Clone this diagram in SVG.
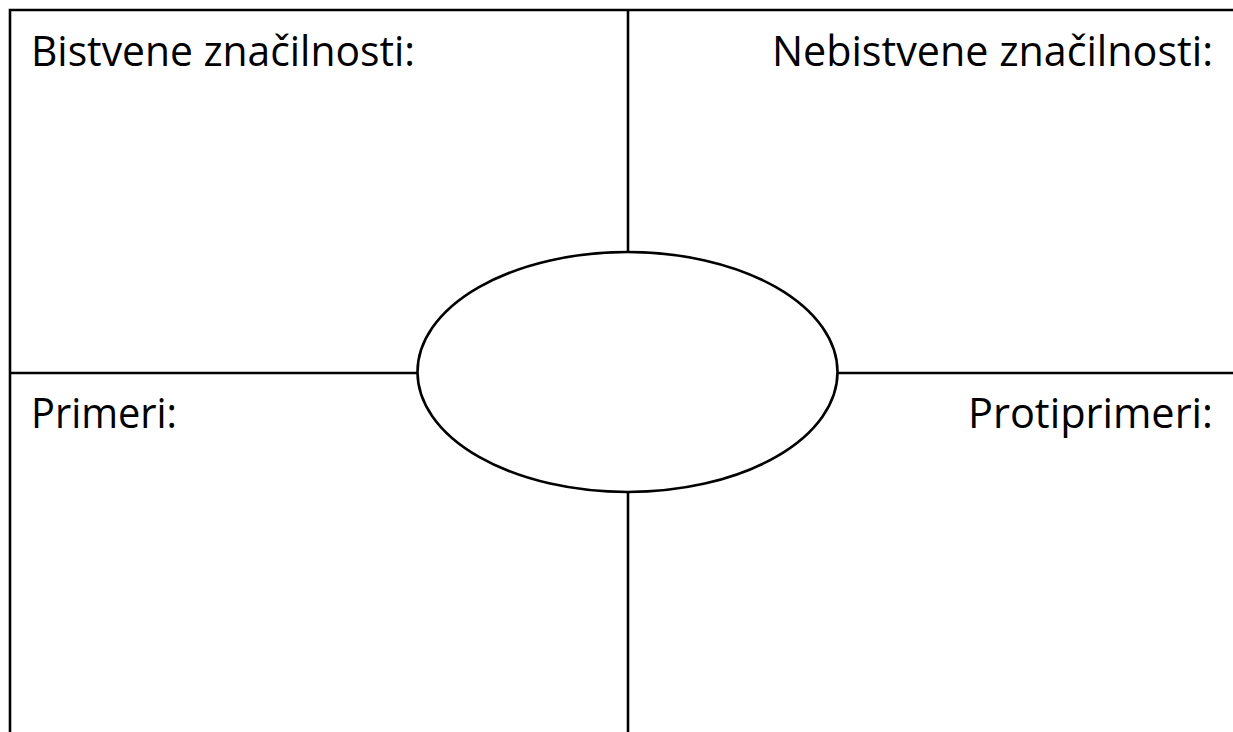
<svg xmlns="http://www.w3.org/2000/svg" width="1233" height="732" viewBox="0 0 1233 732">
  <style>
    .rule { stroke: #000; stroke-width: 2.6; fill: none; }
    .label { font-family: "Open Sans", "Noto Sans", "Liberation Sans", sans-serif; font-size: 42px; fill: #000; }
  </style>
  <rect width="1233" height="732" fill="#fff"/>

  <!-- frame and quadrant dividers -->
  <g id="connectors">
    <path class="rule" d="M10 732 V10 H1233"/>
    <line class="rule" x1="628" y1="10" x2="628" y2="252"/>
    <line class="rule" x1="628" y1="492" x2="628" y2="732"/>
    <line class="rule" x1="10" y1="373" x2="418" y2="373"/>
    <line class="rule" x1="837" y1="373" x2="1233" y2="373"/>
  </g>

  <!-- central concept ellipse -->
  <g id="center">
    <ellipse class="rule" cx="627.5" cy="372" rx="210" ry="120"/>
  </g>

  <g id="essential">
    <text class="label" x="31" y="66" textLength="384" lengthAdjust="spacingAndGlyphs">Bistvene značilnosti:</text>
  </g>
  <g id="nonessential">
    <text class="label" x="772" y="66" textLength="441" lengthAdjust="spacingAndGlyphs">Nebistvene značilnosti:</text>
  </g>
  <g id="examples">
    <text class="label" x="31" y="428" textLength="146" lengthAdjust="spacingAndGlyphs">Primeri:</text>
  </g>
  <g id="counterexamples">
    <text class="label" x="968" y="428" textLength="245" lengthAdjust="spacingAndGlyphs">Protiprimeri:</text>
  </g>
</svg>
